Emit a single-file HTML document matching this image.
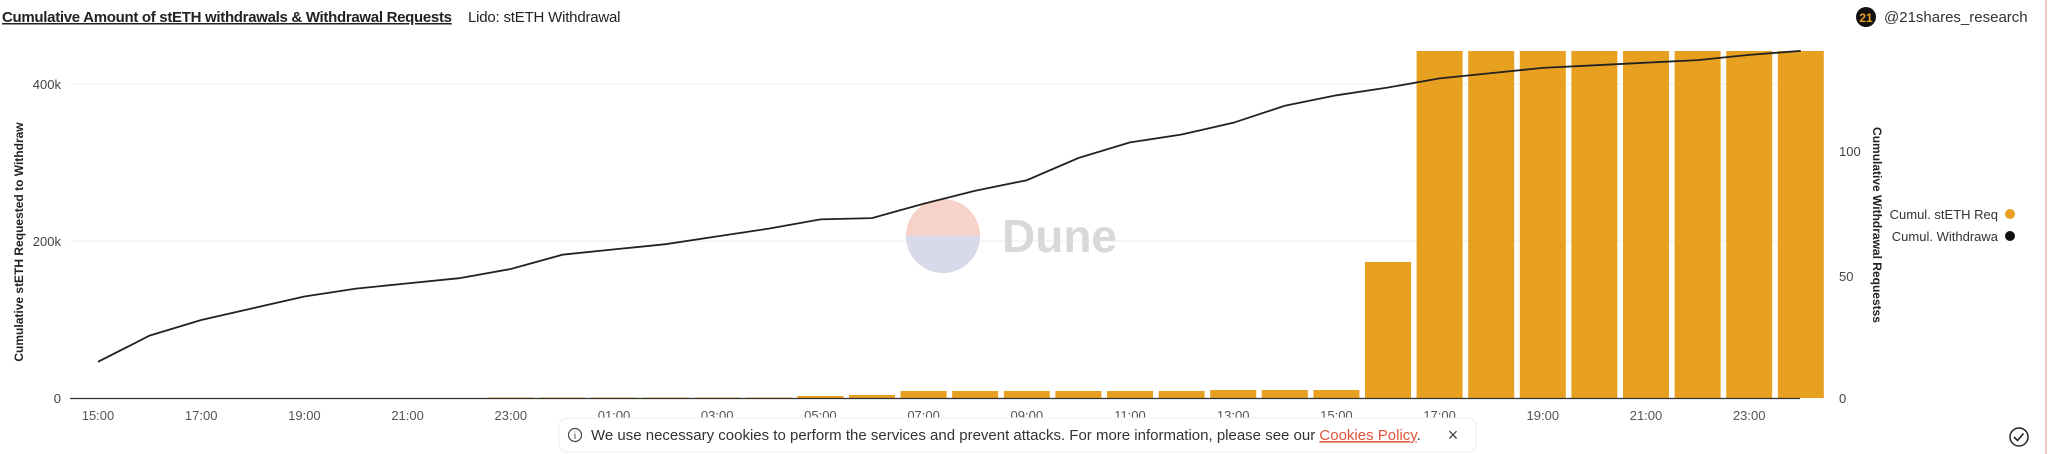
<!DOCTYPE html>
<html><head><meta charset="utf-8"><style>
html,body{margin:0;padding:0;background:#fff;width:2048px;height:454px;overflow:hidden;font-family:"Liberation Sans",sans-serif;}
</style></head><body>
<svg id="s" width="2048" height="454" xmlns="http://www.w3.org/2000/svg" font-family="Liberation Sans, sans-serif">
<text x="2" y="22" font-size="15" font-weight="bold" fill="#222" text-decoration="underline" letter-spacing="-0.3">Cumulative Amount of stETH withdrawals &amp; Withdrawal Requests</text>
<text x="468" y="22" font-size="15" fill="#222" letter-spacing="-0.2">Lido: stETH Withdrawal</text>
<circle cx="1866" cy="17" r="10" fill="#111"/>
<text x="1866" y="22" font-size="12" font-weight="bold" fill="#e8a020" text-anchor="middle">21</text>
<text x="1884" y="22" font-size="15" fill="#333">@21shares_research</text>
<line x1="2046" y1="0" x2="2046" y2="454" stroke="#f3b9a8" stroke-width="1.5"/>
<line x1="70" y1="84" x2="1800" y2="84" stroke="#eee"/>
<line x1="70" y1="241" x2="1800" y2="241" stroke="#eee"/>
<text x="61" y="89" font-size="13" fill="#444" text-anchor="end">400k</text>
<text x="61" y="246" font-size="13" fill="#444" text-anchor="end">200k</text>
<text x="61" y="403" font-size="13" fill="#444" text-anchor="end">0</text>
<text x="1839" y="156" font-size="13" fill="#444">100</text>
<text x="1839" y="281" font-size="13" fill="#444">50</text>
<text x="1839" y="403" font-size="13" fill="#444">0</text>
<text transform="translate(23,242) rotate(-90)" font-size="12" font-weight="bold" fill="#222" text-anchor="middle">Cumulative stETH Requested to Withdraw</text>
<text transform="translate(1873,225) rotate(90)" font-size="12" font-weight="bold" fill="#222" text-anchor="middle">Cumulative Withdrawal Requestss</text>
<circle cx="943" cy="236" r="37" fill="#f7d2c8"/>
<path d="M906,236 A37,37 0 0,0 980,236 Z" fill="#d8d9ea"/>
<text x="1002" y="252" font-size="46" font-weight="bold" fill="#d8d8d8">Dune</text>
<g id="bars"></g>
<line x1="70" y1="398.5" x2="1800" y2="398.5" stroke="#333" stroke-width="1.2"/>
<polyline id="ln" fill="none" stroke="#222" stroke-width="1.8"/>
<g id="xl" font-size="13" fill="#555" text-anchor="middle"></g>
<text x="1998" y="219" font-size="13" fill="#333" text-anchor="end">Cumul. stETH Req</text>
<circle cx="2010" cy="214" r="5" fill="#e8a020"/>
<text x="1998" y="241" font-size="13" fill="#333" text-anchor="end">Cumul. Withdrawa</text>
<circle cx="2010" cy="236" r="5" fill="#111"/>
<rect x="559" y="418" width="917" height="34" rx="8" fill="#fff" stroke="#eee"/>
<circle cx="575" cy="435" r="6.5" fill="none" stroke="#444" stroke-width="1.2"/>
<text x="575" y="439" font-size="10" fill="#444" text-anchor="middle">i</text>
<text x="591" y="440" font-size="15" fill="#333">We use necessary cookies to perform the services and prevent attacks. For more information, please see our <tspan fill="#e0533a" text-decoration="underline">Cookies Policy</tspan>.</text>
<text x="1453" y="441" font-size="18" fill="#444" text-anchor="middle">×</text>
<circle cx="2019" cy="437" r="9" fill="none" stroke="#222" stroke-width="1.5"/>
<path d="M2014,437 l3.5,3.5 l6,-7" fill="none" stroke="#222" stroke-width="1.6"/>
</svg>
<script>
var ns="http://www.w3.org/2000/svg";
function X(h){return 98+51.6*h;}
var ly=[277,257,245,236,227,221,217,213,206,195,191,187,181,175,168,167,156,146,138,121,109,103,94,81,73,67,60,56,52,50,48,46,42,39];
var pts=ly.map(function(y,h){return X(h).toFixed(1)+","+(y*1.306).toFixed(1);}).join(" ");
document.getElementById("ln").setAttribute("points",pts);
var bh=[0,0,0,0,0,0,0,0,1,1,1,1,1,1,2,3,7,7,7,7,7,7,8,8,8,136,347,347,347,347,347,347,347,347];
var g=document.getElementById("bars");
bh.forEach(function(v,h){if(!v)return;var r=document.createElementNS(ns,"rect");r.setAttribute("x",X(h)-23);r.setAttribute("width",46);r.setAttribute("y",398-v);r.setAttribute("height",v);r.setAttribute("fill",v<2?"#f3d9a6":"#e8a020");g.appendChild(r);});
var labs=["15:00","17:00","19:00","21:00","23:00","01:00","03:00","05:00","07:00","09:00","11:00","13:00","15:00","17:00","19:00","21:00","23:00"];
var xl=document.getElementById("xl");
labs.forEach(function(t,i){var e=document.createElementNS(ns,"text");e.setAttribute("x",X(2*i));e.setAttribute("y",420);e.textContent=t;xl.appendChild(e);});
</script>
</body></html>
